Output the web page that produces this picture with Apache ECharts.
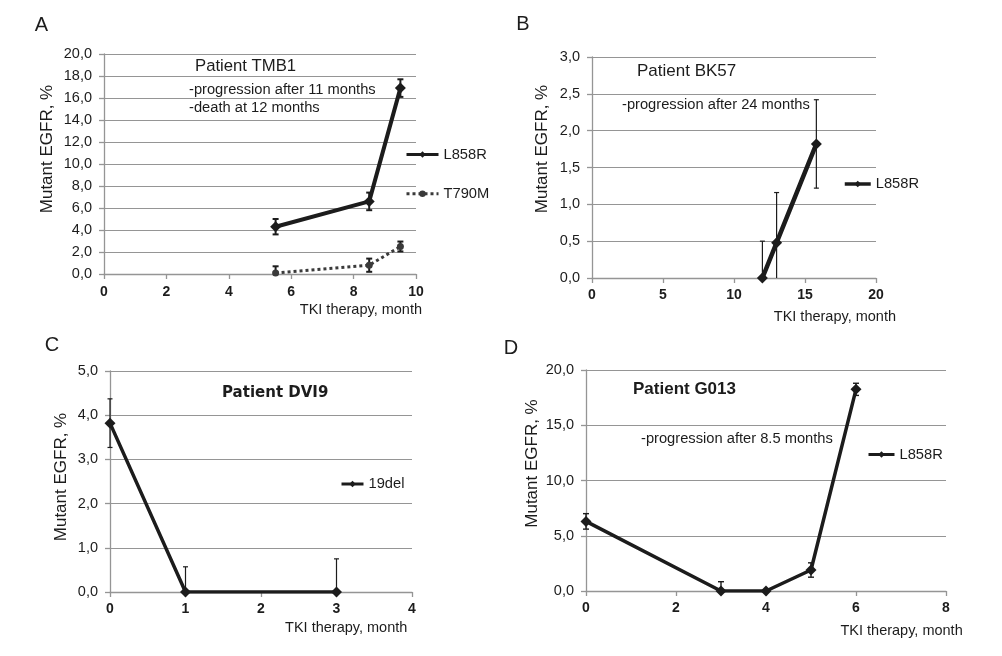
<!DOCTYPE html>
<html>
<head>
<meta charset="utf-8">
<script src="https://cdn.jsdelivr.net/npm/echarts@6/dist/echarts.min.js"></script>
<style>html,body{margin:0;padding:0;background:#fff;}#chart{width:1002px;height:656px;}</style>
</head>
<body>
<div id="chart"></div>
<script>
// ---- Data ----
// Panel A: Patient TMB1
const monthsA = [5.5, 8.5, 9.5];
const a_L858R = [4.3, 6.6, 16.9];
const a_L858R_err = [0.7, 0.8, 0.8];
const a_T790M = [0.1, 0.8, 2.5];
const a_T790M_err = [0.6, 0.6, 0.45];
// Panel B: Patient BK57
const monthsB = [12, 13, 15.8];
const b_L858R = [0, 0.48, 1.82];
const b_L858R_err = [0.5, 0.68, 0.6];
// Panel C: Patient DVI9
const monthsC = [0, 1, 3];
const c_19del = [3.82, 0, 0];
const c_19del_err = [0.55, 0.57, 0.75];
// Panel D: Patient G013
const monthsD = [0, 3, 4, 5, 6];
const d_L858R = [6.3, 0, 0, 1.9, 18.25];
const d_L858R_err = [0.7, 0.84, 0, 0.65, 0.55];

// Axis ranges / ticks
const xAxesCfg = [ {min:0,max:10,interval:2}, {min:0,max:20,interval:5}, {min:0,max:4,interval:1}, {min:0,max:8,interval:2} ];
const yAxesCfg = [ {min:0,max:20,interval:2}, {min:0,max:3,interval:0.5}, {min:0,max:5,interval:1}, {min:0,max:20,interval:5} ];

const FONT = '"Liberation Sans", Arial, sans-serif';
const INK = '#1c1c1c';
const GRID_C = '#959595';

function pts(xs, ys){ return xs.map((x,i)=>[x, ys[i]]); }
function errPts(xs, ys, es){ return xs.map((x,i)=>[x, ys[i]-es[i], ys[i]+es[i]]); }

function errRender(capW, lw){
  return function(params, api){
    const x = api.value(0), lo = api.value(1), hi = api.value(2);
    if (hi === lo) return null;
    const loC = Math.max(lo, 0);
    const pHi = api.coord([x, hi]);
    const pLo = api.coord([x, loC]);
    const st = {stroke: INK, lineWidth: lw};
    const ch = [
      {type:'line', shape:{x1:pHi[0], y1:pHi[1], x2:pLo[0], y2:pLo[1]}, style:st},
      {type:'line', shape:{x1:pHi[0]-capW/2, y1:pHi[1], x2:pHi[0]+capW/2, y2:pHi[1]}, style:st}
    ];
    if (lo >= 0) ch.push({type:'line', shape:{x1:pLo[0]-capW/2, y1:pLo[1], x2:pLo[0]+capW/2, y2:pLo[1]}, style:st});
    return {type:'group', children: ch};
  };
}

const grids = [
  {left:104, top:54, width:312, height:220},
  {left:592, top:57, width:284, height:221},
  {left:110, top:371, width:302, height:221},
  {left:586, top:370, width:360, height:221}
];
const xNameCfg = [ {gap:6, pad:28}, {gap:20, pad:31}, {gap:-4.7, pad:28}, {gap:16.7, pad:32.5} ];
const yNameCfg = [ {gap:48, shift:30}, {gap:41.5, shift:37}, {gap:40.5, shift:9}, {gap:45, shift:34} ];
const xLabMargin = [11, 10, 10, 10];

const xAxis = xAxesCfg.map((c,i)=>({
  type:'value', gridIndex:i, min:c.min, max:c.max, interval:c.interval,
  name:'TKI therapy, month', nameLocation:'end', nameGap:xNameCfg[i].gap,
  nameTextStyle:{fontFamily:FONT, fontSize:14.5, color:INK, align:'right', verticalAlign:'top', padding:[xNameCfg[i].pad,0,0,0]},
  splitLine:{show:false},
  axisLine:{show:true, lineStyle:{color:GRID_C, width:1.3}},
  axisTick:{show:true, length:5, lineStyle:{color:GRID_C, width:1.3}},
  axisLabel:{fontFamily:FONT, fontSize:14, fontWeight:'bold', color:INK, margin:xLabMargin[i]}
}));
const yAxis = yAxesCfg.map((c,i)=>({
  type:'value', gridIndex:i, min:c.min, max:c.max, interval:c.interval,
  name:'Mutant EGFR, %', nameLocation:'middle', nameGap:yNameCfg[i].gap,
  nameTextStyle:{fontFamily:FONT, fontSize:17, color:INK, padding:[0,0,0,yNameCfg[i].shift]},
  splitLine:{show:true, lineStyle:{color:GRID_C, width:1.2}},
  axisLine:{show:true, lineStyle:{color:GRID_C, width:1.3}},
  axisTick:{show:true, length:5, lineStyle:{color:GRID_C, width:1.3}},
  axisLabel:{fontFamily:FONT, fontSize:14.5, color:INK, margin:12, formatter:(v)=>v.toFixed(1).replace('.', ',')}
}));

function lineSeries(name, gi, data, opts){
  return Object.assign({
    type:'line', name:name, xAxisIndex:gi, yAxisIndex:gi, data:data,
    symbol:'diamond', symbolSize:11, showSymbol:true, z:3,
    itemStyle:{color:INK}, lineStyle:{color:INK, width:4}, animation:false
  }, opts||{});
}
function errSeries(name, gi, data, capW, lw){
  return {type:'custom', name:name, xAxisIndex:gi, yAxisIndex:gi, coordinateSystem:'cartesian2d',
    renderItem:errRender(capW, lw), data:data, encode:{x:0, y:[1,2]}, z:2, animation:false, silent:true};
}

const series = [
  errSeries('A L858R err', 0, errPts(monthsA, a_L858R, a_L858R_err), 6, 2),
  errSeries('A T790M err', 0, errPts(monthsA, a_T790M, a_T790M_err), 6, 2),
  lineSeries('L858R', 0, pts(monthsA, a_L858R), {lineStyle:{color:INK, width:4}}),
  lineSeries('T790M', 0, pts(monthsA, a_T790M), {symbol:'circle', symbolSize:7, itemStyle:{color:'#3a3a3a'}, lineStyle:{color:'#3a3a3a', width:3, type:[3,3]}}),
  errSeries('B L858R err', 1, errPts(monthsB, b_L858R, b_L858R_err), 5, 1.2),
  lineSeries('L858R', 1, pts(monthsB, b_L858R), {lineStyle:{color:INK, width:4.5}, symbolSize:11}),
  errSeries('C 19del err', 2, errPts(monthsC, c_19del, c_19del_err), 5, 1.2),
  lineSeries('19del', 2, pts(monthsC, c_19del), {lineStyle:{color:INK, width:3.5}, symbolSize:11}),
  errSeries('D L858R err', 3, errPts(monthsD, d_L858R, d_L858R_err), 6, 1.4),
  lineSeries('L858R', 3, pts(monthsD, d_L858R), {lineStyle:{color:INK, width:3.5}, symbolSize:11})
];

const legTxt = {fontFamily:FONT, fontSize:14.7, color:INK};
const solidLeg = {color:INK, width:3, type:'solid'};
const dotLeg = {color:'#3a3a3a', width:3, type:[3,3]};
const legend = [
  {data:[{name:'L858R', lineStyle:solidLeg}, {name:'T790M', lineStyle:dotLeg, itemStyle:{color:'#3a3a3a'}}], orient:'vertical', left:405, top:147, itemWidth:32, itemHeight:8, itemGap:24.2, textStyle:legTxt, selectedMode:false, padding:0},
  {data:[{name:'L858R', lineStyle:{color:INK, width:3.5, type:'solid'}}], left:843, top:176.5, itemWidth:26, itemHeight:8, textStyle:legTxt, selectedMode:false, padding:0},
  {data:[{name:'19del', lineStyle:{color:INK, width:3, type:'solid'}}], left:340, top:476.5, itemWidth:22, itemHeight:8, textStyle:legTxt, selectedMode:false, padding:0},
  {data:[{name:'L858R', lineStyle:{color:INK, width:3, type:'solid'}}], left:867, top:447, itemWidth:26, itemHeight:8, textStyle:legTxt, selectedMode:false, padding:0}
];

function txt(x, y, text, font, align){
  return {type:'text', x:x, y:y, silent:true, style:{text:text, font:font, fill:INK, align:align||'left', verticalAlign:'middle'}};
}
const graphic = [
  txt(41.5, 25, 'A', '20px ' + FONT, 'center'),
  txt(523, 24, 'B', '20px ' + FONT, 'center'),
  txt(52, 345, 'C', '20px ' + FONT, 'center'),
  txt(511, 348, 'D', '20px ' + FONT, 'center'),
  txt(195, 66, 'Patient TMB1', '16.7px ' + FONT),
  txt(189, 90, '-progression after 11 months', '14.7px ' + FONT),
  txt(189, 108, '-death at 12 months', '14.7px ' + FONT),
  txt(637, 71, 'Patient BK57', '17px ' + FONT),
  txt(622, 105, '-progression after 24 months', '14.7px ' + FONT),
  txt(222, 393, 'Patient DVI9', 'bold 15px "DejaVu Sans", sans-serif'),
  txt(633, 389.5, 'Patient G013', 'bold 17px ' + FONT),
  txt(641, 439, '-progression after 8.5 months', '14.7px ' + FONT)
];

const chart = echarts.init(document.getElementById('chart'), null, {renderer:'canvas'});
chart.setOption({
  backgroundColor:'#ffffff',
  animation:false,
  grid: grids.map(g=>Object.assign({containLabel:false, outerBoundsMode:'none'}, g)),
  xAxis: xAxis,
  yAxis: yAxis,
  legend: legend,
  series: series,
  graphic: graphic
});
</script>
</body>
</html>
